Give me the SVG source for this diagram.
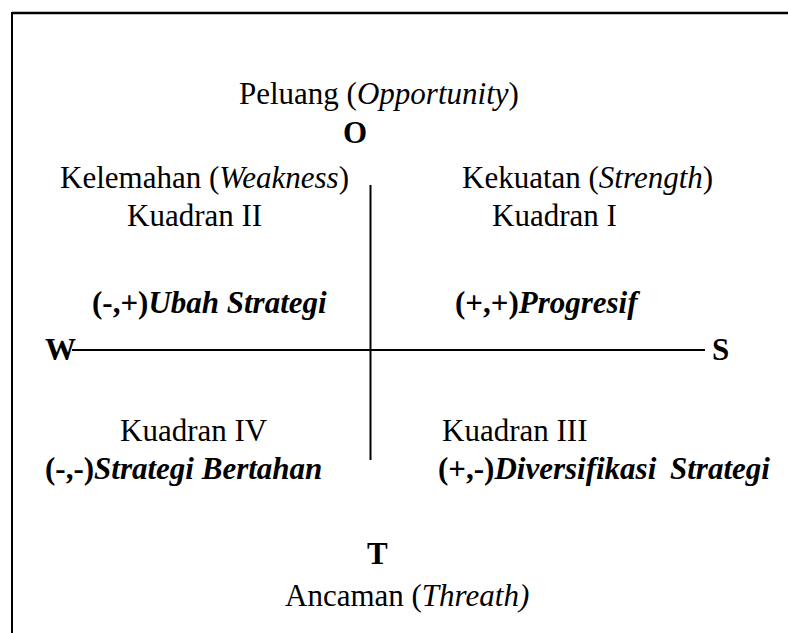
<svg xmlns="http://www.w3.org/2000/svg" width="788" height="633" viewBox="0 0 788 633">
<style>
text{font-family:"Liberation Serif","Times New Roman",serif;font-size:31px;fill:#000}
.b{font-weight:bold}
.i{font-style:italic}
.ax{stroke:#000;stroke-width:2;fill:none}
</style>
<rect width="788" height="633" fill="#fff"/>
<g id="frame">
<line x1="12" y1="13" x2="788" y2="13" stroke="#000" stroke-width="2.5"/>
<line x1="12" y1="12" x2="12" y2="633" stroke="#000" stroke-width="2"/>
</g>
<g id="connectors">
<line class="ax" x1="72" y1="350" x2="705" y2="350"/>
<line class="ax" x1="370.5" y1="185" x2="370.5" y2="460"/>
</g>
<g id="opportunity">
<text x="239" y="104">Peluang (<tspan class="i">Opportunity</tspan>)</text>
<text class="b" x="343" y="143">O</text>
</g>
<g id="weakness">
<text x="60" y="188">Kelemahan (<tspan class="i">Weakness</tspan>)</text>
<text x="127" y="226">Kuadran II</text>
<text class="b" x="92" y="313">(-,+)<tspan class="i">Ubah Strategi</tspan></text>
</g>
<g id="strength">
<text x="462" y="188">Kekuatan (<tspan class="i">Strength</tspan>)</text>
<text x="492" y="226">Kuadran I</text>
<text class="b" x="455" y="313">(+,+)<tspan class="i">Progresif</tspan></text>
</g>
<g id="W"><text class="b" x="45" y="360">W</text></g>
<g id="S"><text class="b" x="712" y="360">S</text></g>
<g id="quadrant4">
<text x="120" y="441">Kuadran IV</text>
<text class="b" x="45" y="479">(-,-)<tspan class="i">Strategi Bertahan</tspan></text>
</g>
<g id="quadrant3">
<text x="442" y="441">Kuadran III</text>
<text class="b" x="438" y="479">(+,-)<tspan class="i">Diversifikasi </tspan><tspan class="i" dx="6">Strategi</tspan></text>
</g>
<g id="threat">
<text class="b" x="367" y="564">T</text>
<text x="285" y="606">Ancaman (<tspan class="i">Threath)</tspan></text>
</g>
</svg>
